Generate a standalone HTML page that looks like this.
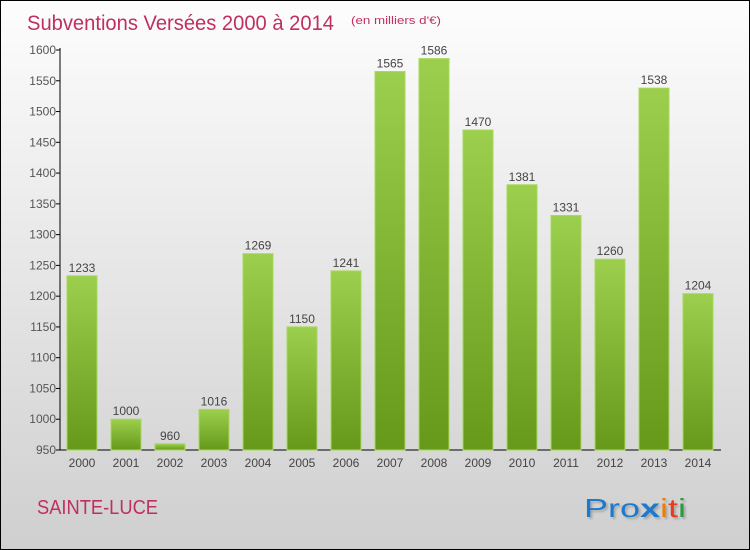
<!DOCTYPE html>
<html><head><meta charset="utf-8"><style>
body{margin:0}
#c{width:748px;height:548px;border:1px solid #000;background:linear-gradient(#fdfdfd,#cfcfcf);position:relative;overflow:hidden;font-family:"Liberation Sans",sans-serif}
</style></head><body>
<div id="c">
<svg width="748" height="548" id="svg">
<defs><linearGradient id="g" x1="0" y1="0" x2="0" y2="1"><stop offset="0" stop-color="#9ccf4d"/><stop offset="1" stop-color="#66991a"/></linearGradient>
<filter id="sh"><feDropShadow dx="2" dy="2" stdDeviation="1" flood-color="#888" flood-opacity="0.6"/></filter></defs>
<text x="26" y="29" font-size="21" fill="#c0305e" textLength="307" lengthAdjust="spacingAndGlyphs">Subventions Versées 2000 à 2014</text>
<text x="350" y="23" font-size="11" fill="#c0305e" textLength="90" lengthAdjust="spacingAndGlyphs">(en milliers d'€)</text>
<text x="36" y="513" font-size="20" fill="#c0305e" textLength="121" lengthAdjust="spacingAndGlyphs">SAINTE-LUCE</text>
<g filter="url(#sh)" font-size="26">
<text x="583" y="516" textLength="102" lengthAdjust="spacingAndGlyphs"><tspan fill="#1a7acc">Pro</tspan><tspan fill="#1a7acc" font-weight="bold">x</tspan><tspan fill="#f07d00">i</tspan><tspan fill="#e63a1e">t</tspan><tspan fill="#2a9a3a">i</tspan></text></g>
<g id="plot"></g>
</svg></div>
<script>
const years=["2000","2001","2002","2003","2004","2005","2006","2007","2008","2009","2010","2011","2012","2013","2014"];
const values=[1233,1000,960,1016,1269,1150,1241,1565,1586,1470,1381,1331,1260,1538,1204];
const ticks=[950,1000,1050,1100,1150,1200,1250,1300,1350,1400,1450,1500,1550,1600];
const ns="http://www.w3.org/2000/svg";
const p=document.getElementById('plot');
const y=v=>449-(v-950)*(400/650);
const x=i=>66+i*44;
function el(t,a){const e=document.createElementNS(ns,t);for(const k in a)e.setAttribute(k,a[k]);p.appendChild(e);return e;}
let ax=el('line',{x1:59,y1:y(1600)-2,x2:59,y2:449,stroke:'#000'});


let bx=el('line',{x1:59,y1:449,x2:720,y2:449,stroke:'#000'});


ticks.forEach(t=>{
 const l=el('line',{x1:55,x2:59,y1:y(t),y2:y(t),stroke:'#000'});
 
 
 const tx=el('text',{x:55,y:y(t)+4,'font-size':12,fill:'#555','text-anchor':'end'});tx.textContent=t;
 
 
});
values.forEach((v,i)=>{
 const r=el('rect',{x:x(i),y:y(v),width:30,height:449-y(v),fill:'url(#g)',stroke:'#a8d85a','stroke-width':1});
 
 
 const t=el('text',{x:x(i)+15,y:y(v)-4,'font-size':12,fill:'#444','text-anchor':'middle'});t.textContent=v;
 
 
 const yl=el('text',{x:x(i)+15,y:466,'font-size':12,fill:'#444','text-anchor':'middle'});yl.textContent=years[i];
 
 
});
</script>
</body></html>
